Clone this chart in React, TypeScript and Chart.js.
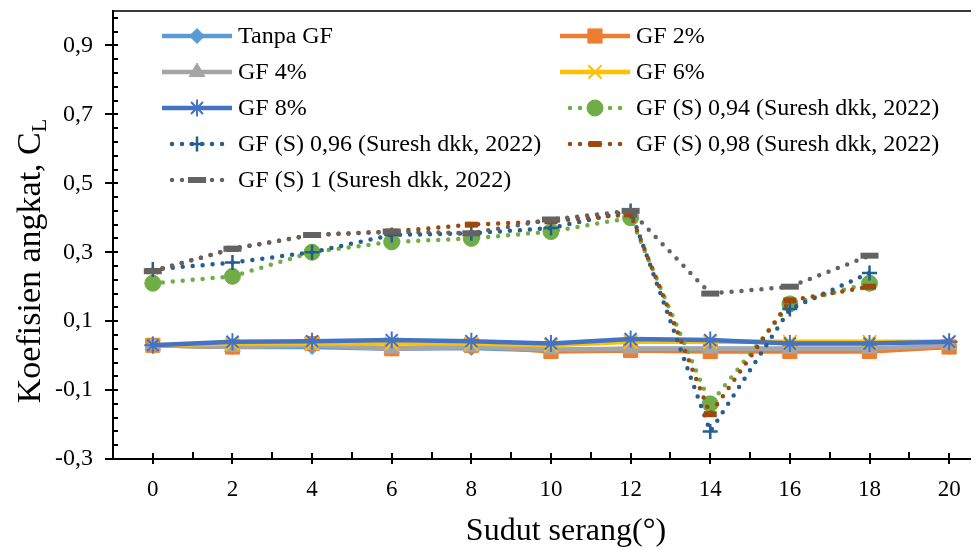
import React, { useEffect, useRef } from "react";
import { Chart, registerables } from "chart.js";
import { drawPoint } from "chart.js/helpers";

Chart.register(...registerables);

// ---- data ----
const angles = [0, 2, 4, 6, 8, 10, 12, 14, 16, 18, 20];
const sureshAngles = [0, 2, 4, 6, 8, 10, 12, 14, 16, 18];

const tanpaGF = [0.03, 0.025, 0.025, 0.02, 0.022, 0.015, 0.02, 0.02, 0.02, 0.02, 0.025];
const gf2 = [0.03, 0.025, 0.035, 0.02, 0.03, 0.012, 0.015, 0.012, 0.012, 0.012, 0.025];
const gf4 = [0.03, 0.025, 0.03, 0.02, 0.025, 0.018, 0.02, 0.02, 0.02, 0.02, 0.03];
const gf6 = [0.03, 0.035, 0.035, 0.035, 0.035, 0.03, 0.04, 0.04, 0.04, 0.04, 0.04];
const gf8 = [0.03, 0.04, 0.042, 0.045, 0.042, 0.035, 0.048, 0.045, 0.035, 0.035, 0.04];

const s094 = [0.21, 0.23, 0.3, 0.33, 0.34, 0.36, 0.4, -0.14, 0.15, 0.21];
const s096 = [0.25, 0.27, 0.3, 0.35, 0.355, 0.37, 0.42, -0.22, 0.135, 0.24];
const s098 = [0.245, 0.31, 0.35, 0.36, 0.38, 0.39, 0.41, -0.17, 0.16, 0.2];
const s1 = [0.245, 0.31, 0.35, 0.36, 0.355, 0.395, 0.42, 0.18, 0.2, 0.29];

const yMajorTicks = [-0.3, -0.1, 0.1, 0.3, 0.5, 0.7, 0.9];
const xLabelTicks = [0, 2, 4, 6, 8, 10, 12, 14, 16, 18, 20];

const seriesNames = [
  "Tanpa GF",
  "GF 2%",
  "GF 4%",
  "GF 6%",
  "GF 8%",
  "GF (S) 0,94 (Suresh dkk, 2022)",
  "GF (S) 0,96 (Suresh dkk, 2022)",
  "GF (S) 0,98 (Suresh dkk, 2022)",
  "GF (S) 1 (Suresh dkk, 2022)",
];

const FONT = "'Liberation Serif', 'Times New Roman', serif";

type Style = {
  color: string;
  pointStyle: string;
  radius: number;
  pbw: number;
  dotted: boolean;
};

const styles: Style[] = [
  { color: "#5B9BD5", pointStyle: "rectRot", radius: 7.5, pbw: 1, dotted: false },
  { color: "#ED7D31", pointStyle: "rect", radius: 10, pbw: 1, dotted: false },
  { color: "#A5A5A5", pointStyle: "triangle", radius: 9, pbw: 1, dotted: false },
  { color: "#FFC000", pointStyle: "crossRot", radius: 9.5, pbw: 2, dotted: false },
  { color: "#4472C4", pointStyle: "star", radius: 8.5, pbw: 2, dotted: false },
  { color: "#70AD47", pointStyle: "circle", radius: 8, pbw: 1, dotted: true },
  { color: "#255E91", pointStyle: "cross", radius: 7.5, pbw: 2.5, dotted: true },
  { color: "#9E480E", pointStyle: "line", radius: 6.5, pbw: 6, dotted: true },
  { color: "#636363", pointStyle: "line", radius: 9, pbw: 6, dotted: true },
];

const seriesValues = [tanpaGF, gf2, gf4, gf6, gf8, s094, s096, s098, s1];

const fmt = (v: number) => v.toFixed(1).replace(".", ",");

const customPlugin = {
  id: "customAxesLegend",
  afterDraw(chart: any) {
    const { ctx, chartArea } = chart;
    const { left, right, top, bottom } = chartArea;
    const xs = chart.scales.x;
    const ys = chart.scales.y;
    ctx.save();

    // top border
    ctx.strokeStyle = "#3a3a3a";
    ctx.lineWidth = 2;
    ctx.beginPath();
    ctx.moveTo(left, top);
    ctx.lineTo(right, top);
    ctx.stroke();

    // axes
    ctx.strokeStyle = "#000";
    ctx.lineWidth = 2;
    ctx.beginPath();
    ctx.moveTo(left, top - 1);
    ctx.lineTo(left, bottom + 1);
    ctx.moveTo(left - 1, bottom);
    ctx.lineTo(right, bottom);
    ctx.stroke();

    // y ticks
    ctx.lineWidth = 2;
    ctx.beginPath();
    for (let i = 0; i <= 32; i++) {
      const v = -0.3 + i * 0.04;
      const py = Math.round(ys.getPixelForValue(v));
      const major = i % 5 === 0;
      ctx.moveTo(major ? left - 8 : left, py);
      ctx.lineTo(left + 5, py);
    }
    // x ticks
    for (let v = 0; v <= 20; v++) {
      const px = Math.round(xs.getPixelForValue(v));
      if (v % 2 === 0) {
        ctx.moveTo(px, bottom - 6);
        ctx.lineTo(px, bottom + 5);
      } else {
        ctx.moveTo(px, bottom - 7);
        ctx.lineTo(px, bottom);
      }
    }
    ctx.stroke();

    // legend
    const rows = [28, 64, 100, 136, 172];
    const cols = [
      { x0: 154, x1: 224, tx: 230 },
      { x0: 552, x1: 622, tx: 628 },
    ];
    ctx.font = `24px ${FONT}`;
    ctx.textBaseline = "middle";
    ctx.textAlign = "left";
    seriesNames.forEach((name, i) => {
      const st = styles[i];
      const c = cols[i % 2];
      const y = rows[Math.floor(i / 2)];
      ctx.save();
      ctx.strokeStyle = st.color;
      ctx.fillStyle = st.color;
      ctx.lineWidth = 4.5;
      if (st.dotted) {
        ctx.setLineDash([0, 10]);
        ctx.lineCap = "round";
      } else {
        ctx.setLineDash([]);
        ctx.lineCap = "butt";
      }
      ctx.beginPath();
      ctx.moveTo(c.x0 + (st.dotted ? 10 : 0), y);
      ctx.lineTo(c.x1, y);
      ctx.stroke();
      ctx.setLineDash([]);
      ctx.lineCap = "butt";
      ctx.lineWidth = st.pbw;
      drawPoint(ctx, { pointStyle: st.pointStyle, rotation: 0, radius: st.radius, borderWidth: st.pbw } as any, (c.x0 + c.x1) / 2, y);
      ctx.restore();
      ctx.fillStyle = "#000";
      ctx.fillText(name, c.tx, y + 1);
    });

    // x title
    ctx.fillStyle = "#000";
    ctx.font = `32px ${FONT}`;
    ctx.textAlign = "center";
    ctx.textBaseline = "alphabetic";
    ctx.fillText("Sudut serang(°)", 558, 532);

    // y title with subscript
    ctx.save();
    ctx.translate(32, 253);
    ctx.rotate(-Math.PI / 2);
    ctx.textAlign = "left";
    ctx.font = `34px ${FONT}`;
    const main = "Koefisien angkat, C";
    const w1 = ctx.measureText(main).width;
    ctx.font = `22px ${FONT}`;
    const w2 = ctx.measureText("L").width;
    const start = -(w1 + w2) / 2;
    ctx.font = `34px ${FONT}`;
    ctx.fillText(main, start, 0);
    ctx.font = `22px ${FONT}`;
    ctx.fillText("L", start + w1, 6);
    ctx.restore();

    ctx.restore();
  },
};

export default function App() {
  const ref = useRef<HTMLCanvasElement | null>(null);

  useEffect(() => {
    if (!ref.current) return;
    const datasets = seriesNames.map((name, i) => {
      const st = styles[i];
      const xsArr = i < 5 ? angles : sureshAngles;
      return {
        label: name,
        data: seriesValues[i].map((v, k) => ({ x: xsArr[k], y: v })),
        borderColor: st.color,
        backgroundColor: st.color,
        borderWidth: 4.5,
        borderDash: st.dotted ? [0, 10] : [],
        borderCapStyle: st.dotted ? "round" : "butt",
        borderJoinStyle: "round",
        pointStyle: st.pointStyle,
        pointRadius: st.radius,
        pointHoverRadius: st.radius,
        pointBorderWidth: st.pbw,
        pointBackgroundColor: st.color,
        pointBorderColor: st.color,
        tension: 0,
        clip: false,
        order: 20 - i,
      };
    });

    const chart = new Chart(ref.current, {
      type: "line",
      data: { datasets: datasets as any },
      options: {
        responsive: false,
        animation: false,
        devicePixelRatio: 1,
        layout: { autoPadding: false, padding: { top: 3, right: 0, left: 0, bottom: 0 } },
        plugins: { legend: { display: false }, tooltip: { enabled: false }, title: { display: false } },
        scales: {
          x: {
            type: "linear",
            min: -1,
            max: 20.75,
            grid: { display: false },
            border: { display: false },
            afterBuildTicks: (scale: any) => {
              scale.ticks = xLabelTicks.map((v) => ({ value: v }));
            },
            afterFit: (scale: any) => {
              scale.height = 89;
              scale.paddingLeft = 0;
              scale.paddingRight = 0;
            },
            ticks: {
              autoSkip: false,
              maxRotation: 0,
              padding: 9,
              color: "#000",
              font: { family: FONT, size: 23 },
              callback: (v: any) => String(v),
            },
          },
          y: {
            type: "linear",
            min: -0.3,
            max: 1.0,
            grid: { display: false },
            border: { display: false },
            afterBuildTicks: (scale: any) => {
              scale.ticks = yMajorTicks.map((v) => ({ value: v }));
            },
            afterFit: (scale: any) => {
              scale.width = 105;
              scale.paddingTop = 0;
              scale.paddingBottom = 0;
            },
            ticks: {
              autoSkip: false,
              padding: 12,
              color: "#000",
              font: { family: FONT, size: 24 },
              callback: (v: any) => fmt(Number(v)),
            },
          },
        },
      },
      plugins: [customPlugin],
    });
    return () => chart.destroy();
  }, []);

  return (
    <div style={{ width: 971, height: 540 }}>
      <canvas ref={ref} width={971} height={540} style={{ display: "block", width: 971, height: 540 }} />
    </div>
  );
}
